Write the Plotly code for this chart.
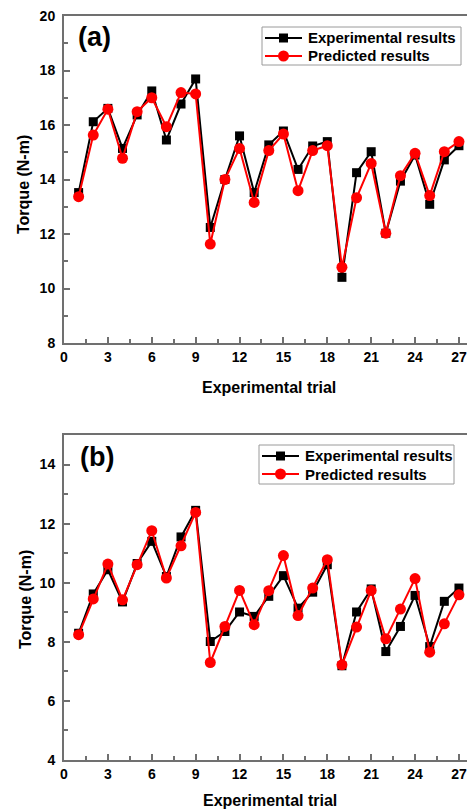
import plotly.graph_objects as go
from plotly.subplots import make_subplots

# Experimental trial numbers
trials = list(range(1, 28))

# Panel (a): torque, N-m
exp_a = [13.52, 16.12, 16.61, 15.14, 16.37, 17.25, 15.45, 16.77, 17.69,
         12.24, 14.00, 15.60, 13.52, 15.27, 15.78, 14.37, 15.23, 15.39,
         10.41, 14.25, 15.02, 12.03, 13.94, 14.90, 13.09, 14.72, 15.24]
pred_a = [13.37, 15.63, 16.58, 14.78, 16.49, 17.00, 15.94, 17.19, 17.14,
          11.63, 14.00, 15.14, 13.16, 15.06, 15.67, 13.59, 15.06, 15.24,
          10.78, 13.33, 14.59, 12.03, 14.14, 14.96, 13.41, 15.02, 15.39]

# Panel (b): torque, N-m
exp_b = [8.29, 9.62, 10.44, 9.35, 10.65, 11.40, 10.21, 11.55, 12.45,
         8.01, 8.35, 9.01, 8.86, 9.54, 10.24, 9.14, 9.68, 10.61,
         7.19, 9.01, 9.79, 7.67, 8.52, 9.57, 7.84, 9.37, 9.82]
pred_b = [8.24, 9.45, 10.63, 9.42, 10.61, 11.76, 10.16, 11.25, 12.38,
          7.30, 8.52, 9.74, 8.58, 9.73, 10.92, 8.89, 9.82, 10.78,
          7.22, 8.50, 9.74, 8.10, 9.11, 10.14, 7.65, 8.61, 9.59]

series_names = ["Experimental results", "Predicted results"]
panel_labels = ["(a)", "(b)"]
x_title = "Experimental trial"
y_title = "Torque (N-m)"
x_ticks = list(range(0, 28, 3))

W, H = 467, 810
ML, MT, MB = 64, 16, 50
PW, PH = W - ML, H - MT - MB

FONT = "Liberation Sans, Arial, sans-serif"
AXIS_GREY = "#707070"
RED = "#ff0000"
SQ, CIRC = 9, 11


def px_x(px):
    return (px - ML) / PW


def px_y(py):
    return (H - MB - py) / PH


fig = make_subplots(rows=2, cols=1)

for row, (exp, pred) in enumerate([(exp_a, pred_a), (exp_b, pred_b)], start=1):
    fig.add_trace(go.Scatter(
        x=trials, y=exp, name=series_names[0], mode="lines+markers",
        line=dict(color="black", width=2),
        marker=dict(symbol="square", size=SQ, color="black"),
        showlegend=False), row=row, col=1)
    fig.add_trace(go.Scatter(
        x=trials, y=pred, name=series_names[1], mode="lines+markers",
        line=dict(color=RED, width=2),
        marker=dict(symbol="circle", size=CIRC, color=RED),
        showlegend=False), row=row, col=1)

axis_common = dict(
    showline=True, linecolor=AXIS_GREY, linewidth=2,
    ticks="inside", ticklen=6, tickwidth=1.5, tickcolor=AXIS_GREY,
    showgrid=False, zeroline=False,
    tickfont=dict(family=FONT, size=14, color="black", weight="bold"),
)
x_minor = dict(dtick=1.5, tick0=0, ticks="inside", ticklen=4,
               tickcolor=AXIS_GREY, tickwidth=1.5)
y_minor = dict(dtick=1, ticks="inside", ticklen=4,
               tickcolor=AXIS_GREY, tickwidth=1.5)

fig.update_layout(
    xaxis=dict(domain=[0, 1], range=[0, 27.55], tickvals=x_ticks,
               mirror=True, minor=x_minor, **axis_common),
    yaxis=dict(domain=[px_y(343), 1], range=[8, 20], dtick=2,
               minor=y_minor, ticklabelstandoff=4, **axis_common),
    xaxis2=dict(domain=[0, 1], range=[0, 27.55], tickvals=x_ticks,
                mirror=True, minor=x_minor, **axis_common),
    yaxis2=dict(domain=[0, px_y(435)], range=[4, 15], dtick=2,
                minor=y_minor, ticklabelstandoff=4, **axis_common),
)

shapes = []
annotations = []

# Legend boxes: (left, top, right, bottom) in pixels
legend_boxes = [(262, 27, 461, 65), (259, 445, 454, 484)]
for (l, t, r, b) in legend_boxes:
    shapes.append(dict(type="rect", xref="paper", yref="paper",
                       x0=px_x(l), x1=px_x(r), y0=px_y(b), y1=px_y(t),
                       line=dict(color="#9a9a9a", width=1),
                       fillcolor="white", layer="above"))
    rows = [(t + 11, "black", "square"), (t + 29, RED, "circle")]
    for name, (ry, col, sym) in zip(series_names, rows):
        shapes.append(dict(type="line", xref="paper", yref="paper",
                           x0=px_x(l + 3), x1=px_x(l + 40),
                           y0=px_y(ry), y1=px_y(ry),
                           line=dict(color=col, width=2), layer="above"))
        cx = l + 21.5
        half = (SQ if sym == "square" else CIRC) / 2
        shapes.append(dict(type="rect" if sym == "square" else "circle",
                           xref="paper", yref="paper",
                           x0=px_x(cx - half), x1=px_x(cx + half),
                           y0=px_y(ry + half), y1=px_y(ry - half),
                           line=dict(color=col, width=0),
                           fillcolor=col, layer="above"))
        annotations.append(dict(
            text=name, x=px_x(l + 44), y=px_y(ry), xref="paper",
            yref="paper", xanchor="left", yanchor="middle",
            showarrow=False,
            font=dict(family=FONT, size=15, color="black", weight="bold")))

# panel letters
for label, (ax, ay) in zip(panel_labels, [(76, 37), (78, 457)]):
    annotations.append(dict(
        text=label, x=px_x(ax), y=px_y(ay), xref="paper", yref="paper",
        xanchor="left", yanchor="middle", showarrow=False,
        font=dict(family=FONT, size=27, color="black", weight="bold")))
# axis titles
for cx, cy in [(269, 387), (270, 800)]:
    annotations.append(dict(
        text=x_title, x=px_x(cx), y=px_y(cy), xref="paper", yref="paper",
        xanchor="center", yanchor="middle", showarrow=False,
        font=dict(family=FONT, size=16, color="black", weight="bold")))
for cx, cy in [(23, 185), (25, 600)]:
    annotations.append(dict(
        text=y_title, x=px_x(cx), y=px_y(cy), xref="paper", yref="paper",
        xanchor="center", yanchor="middle", showarrow=False, textangle=-90,
        font=dict(family=FONT, size=16, color="black", weight="bold")))

fig.update_layout(
    width=W, height=H,
    margin=dict(l=ML, r=0, t=MT, b=MB, pad=0),
    paper_bgcolor="white", plot_bgcolor="white",
    shapes=shapes, annotations=annotations,
    showlegend=False,
)

fig.write_html("out.html", config={"displayModeBar": False})
